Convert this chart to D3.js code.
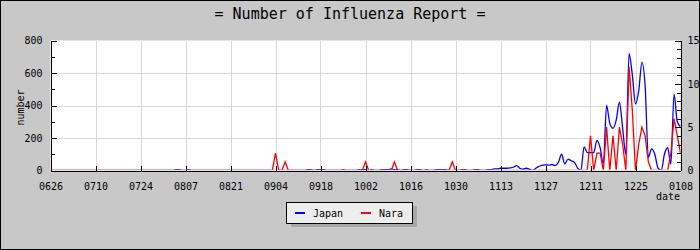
<!DOCTYPE html>
<html>
<head>
<meta charset="utf-8">
<script src="https://cdn.jsdelivr.net/npm/d3@7"></script>
<style>
  body { margin: 0; background: #c8c8c8; }
  svg { display: block; }
</style>
</head>
<body>
<svg id="chart" width="700" height="250"></svg>
<script>
// daily reports, first day 2009-06-26, last day 2010-01-08
const firstDay = "2009-06-26";
const japan = [
  0,0,0,0,0,0,0,0,0,0, 0,0,0,0,0,0,0,0,0,0, 0,0,0,0,0,0,0,0,0,0, 0,0,0,0,0,0,0,0,0,5,
  5,0,0,5,0,0,0,0,0,0, 0,0,0,0,0,0,0,0,0,0, 0,0,0,0,0,0,0,0,0,0, 0,0,0,0,0,0,0,0,0,0,
  5,5,0,5,5,5,0,0,0,0, 0,5,0,0,0,0,5,5,5,0, 5,0,0,5,5,5,10,5,5,0, 5,5,0,0,5,5,0,5,0,0,
  5,5,5,5,0,0,0,0,5,5, 0,0,5,5,0,0,5,5,10,10, 14,14,14,16,20,30,14,8,14,8, 0,14,25,33,35,33,37,30,50,100,
  40,70,60,50,15,0,145,110,110,110, 185,140,40,400,290,260,310,420,260,100, 720,590,410,490,665,520,80,133,100,15,
  0,100,140,40,470,300,270
];
const nara = [
  0,0,0,0,0,0,0,0,0,0, 0,0,0,0,0,0,0,0,0,0, 0,0,0,0,0,0,0,0,0,0, 0,0,0,0,0,0,0,0,0,0,
  0,0,0,0,0,0,0,0,0,0, 0,0,0,0,0,0,0,0,0,0, 0,0,0,0,0,0,0,0,0,0, 2,0,0,1,0,0,0,0,0,0,
  0,0,0,0,0,0,0,0,0,0, 0,0,0,0,0,0,0,0,1,0, 0,0,0,0,0,0,0,1,0,0, 0,0,0,0,0,0,0,0,0,0,
  0,0,0,0,0,1,0,0,0,0, 0,0,0,0,0,0,0,0,0,0, 0,0,0,0,0,0,0,0,0,0, 0,0,0,0,0,0,0,0,0,0,
  0,0,0,0,0,0,0,0,4,0, 2,2,0,5,0,4,0,5,3,0, 12,7,0,3,5,4,1,0,0,0,
  0,0,0,2,6,4,2
];
const seriesNames = ["Japan", "Nara"];
const seriesColors = ["#0000ff", "#ff0000"];
const leftTicks = [0, 200, 400, 600, 800];
const leftMinor = [100, 300, 500, 700];
const rightTicks = [0, 5, 10, 15];
const rightMinor = d3.range(0, 16);
const xTickStep = 14; // days between date labels

(function () {
  const mono = "'DejaVu Sans Mono', monospace";
  const svg = d3.select("#chart");
  const W = 700, H = 250;
  const pl = 50.5, pr = 680.5, pt = 40.5, pb = 170.5;

  const start = d3.timeParse("%Y-%m-%d")(firstDay);
  const days = japan.map((_, i) => d3.timeDay.offset(start, i));

  const x = d3.scaleTime().domain([days[0], days[days.length - 1]]).range([pl, pr]);
  const yL = d3.scaleLinear().domain([0, 800]).range([pb, pt]);
  const yR = d3.scaleLinear().domain([0, 15]).range([pb, pt]);
  const xTicks = days.filter((d, i) => i % xTickStep === 0);

  // frame + plot background
  svg.append("rect").attr("x", 0.5).attr("y", 0.5).attr("width", W - 1).attr("height", H - 1)
    .attr("fill", "#c8c8c8").attr("stroke", "#000");
  svg.append("rect").attr("x", pl).attr("y", pt).attr("width", pr - pl).attr("height", pb - pt)
    .attr("fill", "#fff");

  // keep zero runs hidden under the x axis
  svg.append("clipPath").attr("id", "plotclip").append("rect")
    .attr("x", pl).attr("y", 30).attr("width", pr - pl).attr("height", 169.8 - 30);

  // grid
  const grid = svg.append("g").attr("stroke", "#d9d9d9").attr("shape-rendering", "crispEdges");
  grid.selectAll("line.v").data(xTicks.slice(1)).join("line")
    .attr("x1", d => Math.round(x(d)) + 0.5).attr("x2", d => Math.round(x(d)) + 0.5)
    .attr("y1", pt).attr("y2", pb);
  grid.selectAll("line.h").data(leftTicks.slice(1, -1)).join("line")
    .attr("x1", pl).attr("x2", pr)
    .attr("y1", d => Math.round(yL(d)) + 0.5).attr("y2", d => Math.round(yL(d)) + 0.5);

  // lines
  const lineJ = d3.line().x((d, i) => x(days[i])).y(d => yL(d)).curve(d3.curveMonotoneX);
  const lineN = d3.line().x((d, i) => x(days[i])).y(d => yR(d));
  const lines = svg.append("g").attr("clip-path", "url(#plotclip)");
  lines.append("path").attr("d", lineJ(japan)).attr("fill", "none")
    .attr("stroke", seriesColors[0]).attr("stroke-width", 1.3);
  lines.append("path").attr("d", lineN(nara)).attr("fill", "none")
    .attr("stroke", seriesColors[1]).attr("stroke-width", 1.3);

  function styleAxis(g) {
    g.attr("font-family", mono).attr("font-size", 10);
    g.selectAll("text").attr("fill", "#000");
    g.selectAll("line,path").attr("stroke", "#000").attr("shape-rendering", "crispEdges");
  }

  // left axis
  svg.append("g").attr("transform", `translate(${pl},0)`)
    .call(d3.axisLeft(yL).tickValues(leftMinor).tickSize(-4).tickFormat("").tickSizeOuter(0))
    .call(styleAxis).select(".domain").remove();
  svg.append("g").attr("transform", `translate(${pl},0)`)
    .call(d3.axisLeft(yL).tickValues(leftTicks).tickSize(-6).tickPadding(8).tickSizeOuter(0))
    .call(styleAxis);

  // right axis
  svg.append("g").attr("transform", `translate(${pr},0)`)
    .call(d3.axisRight(yR).tickValues(rightMinor).tickSize(-4).tickFormat("").tickSizeOuter(0))
    .call(styleAxis).select(".domain").remove();
  svg.append("g").attr("transform", `translate(${pr},0)`)
    .call(d3.axisRight(yR).tickValues(rightTicks).tickSize(-6).tickPadding(7).tickSizeOuter(0))
    .call(styleAxis);

  // bottom axis
  svg.append("g").attr("transform", `translate(0,${pb})`)
    .call(d3.axisBottom(x).tickValues(xTicks).tickFormat(d3.timeFormat("%m%d"))
      .tickSize(-5).tickPadding(12).tickSizeOuter(0))
    .call(styleAxis);

  // titles
  svg.append("text").attr("x", 350).attr("y", 19).attr("text-anchor", "middle")
    .attr("font-family", mono).attr("font-size", 15).text("= Number of Influenza Report =");
  svg.append("text").attr("transform", "translate(24,107.5) rotate(-90)").attr("text-anchor", "middle")
    .attr("font-family", mono).attr("font-size", 10).text("number");
  svg.append("text").attr("x", 680).attr("y", 200).attr("text-anchor", "end")
    .attr("font-family", mono).attr("font-size", 10).text("date");

  // legend
  const lg = svg.append("g").attr("shape-rendering", "crispEdges");
  lg.append("rect").attr("x", 290.5).attr("y", 205.5).attr("width", 126).attr("height", 21).attr("fill", "#a8a8a8");
  lg.append("rect").attr("x", 286.5).attr("y", 202.5).attr("width", 126).attr("height", 21)
    .attr("fill", "#eeeeee").attr("stroke", "#000");
  const itemX = [295, 361];
  seriesNames.forEach((name, i) => {
    lg.append("line").attr("x1", itemX[i]).attr("x2", itemX[i] + 10).attr("y1", 213).attr("y2", 213)
      .attr("stroke", seriesColors[i]).attr("stroke-width", 2);
    lg.append("text").attr("x", itemX[i] + 18).attr("y", 216.5)
      .attr("font-family", mono).attr("font-size", 10).text(name);
  });
})();
</script>
</body>
</html>
